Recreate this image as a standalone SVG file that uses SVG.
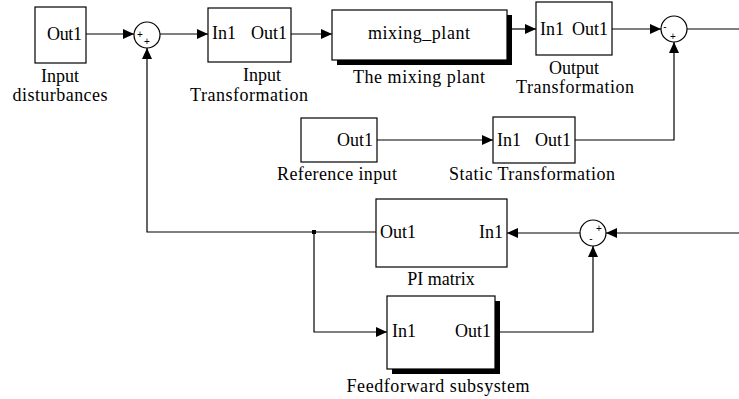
<svg xmlns="http://www.w3.org/2000/svg" width="739" height="399" viewBox="0 0 739 399">
<style>
.blk{fill:#fff;stroke:#000;stroke-width:1.2}
.sh{fill:#000}
.t{font-family:"Liberation Serif","DejaVu Serif",serif;font-size:18px;fill:#000}
.s{font-family:"Liberation Sans","DejaVu Sans",sans-serif;font-size:10px;fill:#000}
.w{fill:none;stroke:#000;stroke-width:1.2}
.c{fill:#fff;stroke:#000;stroke-width:1.2}
</style>
<defs>
<marker id="a" markerWidth="11" markerHeight="10" refX="11" refY="5" orient="auto" markerUnits="userSpaceOnUse">
<path d="M0,0 L11,5 L0,10 Z" fill="#000"/>
</marker>
</defs>
<g id="connectors">
<path class="w" d="M86,34 H134" marker-end="url(#a)"/>
<path class="w" d="M160,34 H208" marker-end="url(#a)"/>
<path class="w" d="M291,34 H332" marker-end="url(#a)"/>
<path class="w" d="M512,29 H536" marker-end="url(#a)"/>
<path class="w" d="M612,29 H661" marker-end="url(#a)"/>
<path class="w" d="M687,29 H739"/>
<path class="w" d="M377,140 H493" marker-end="url(#a)"/>
<path class="w" d="M575,140 H674 V42" marker-end="url(#a)"/>
<path class="w" d="M376,232 H147 V48" marker-end="url(#a)"/>
<path class="w" d="M314,232 V332 H387" marker-end="url(#a)"/>
<rect x="312" y="230" width="4" height="4" fill="#000"/>
<path class="w" d="M500,332 H593 V246" marker-end="url(#a)"/>
<path class="w" d="M739,233 H606" marker-end="url(#a)"/>
<path class="w" d="M580,233 H507" marker-end="url(#a)"/>
</g>
<g id="input-disturbances">
<rect class="blk" x="35" y="7" width="51" height="56"/>
<text class="t" x="82" y="40" text-anchor="end" textLength="35">Out1</text>
<text class="t" x="60" y="82" text-anchor="middle">Input</text>
<text class="t" x="60" y="101" text-anchor="middle" textLength="95">disturbances</text>
</g>
<g id="sum1">
<circle class="c" cx="147" cy="35" r="13"/>
<text class="s" x="140" y="38" text-anchor="middle">+</text>
<text class="s" x="147" y="45" text-anchor="middle">+</text>
</g>
<g id="input-transformation">
<rect class="blk" x="208" y="8" width="83" height="54"/>
<text class="t" x="212" y="39">In1</text>
<text class="t" x="287" y="39" text-anchor="end">Out1</text>
<text class="t" x="262" y="81" text-anchor="middle">Input</text>
<text class="t" x="249" y="101" text-anchor="middle" textLength="118">Transformation</text>
</g>
<g id="mixing-plant">
<rect class="sh" x="337" y="15" width="175" height="50"/>
<rect class="blk" x="332" y="10" width="175" height="50"/>
<text class="t" x="419" y="39" text-anchor="middle" textLength="102">mixing_plant</text>
<text class="t" x="419" y="83" text-anchor="middle" textLength="132">The mixing plant</text>
</g>
<g id="output-transformation">
<rect class="blk" x="536" y="2" width="76" height="53"/>
<text class="t" x="540" y="35">In1</text>
<text class="t" x="608" y="35" text-anchor="end">Out1</text>
<text class="t" x="574" y="74" text-anchor="middle">Output</text>
<text class="t" x="575" y="93" text-anchor="middle" textLength="118">Transformation</text>
</g>
<g id="sum2">
<circle class="c" cx="674" cy="29" r="13"/>
<text class="s" x="665" y="30" text-anchor="middle">-</text>
<text class="s" x="673" y="40" text-anchor="middle">+</text>
</g>
<g id="reference-input">
<rect class="blk" x="301" y="118" width="76" height="44"/>
<text class="t" x="373" y="146" text-anchor="end">Out1</text>
<text class="t" x="337" y="180" text-anchor="middle" textLength="120">Reference input</text>
</g>
<g id="static-transformation">
<rect class="blk" x="493" y="117" width="82" height="46"/>
<text class="t" x="497" y="146">In1</text>
<text class="t" x="571" y="146" text-anchor="end">Out1</text>
<text class="t" x="532" y="180" text-anchor="middle" textLength="166">Static Transformation</text>
</g>
<g id="pi-matrix">
<rect class="blk" x="376" y="199" width="131" height="68"/>
<text class="t" x="380" y="238">Out1</text>
<text class="t" x="503" y="238" text-anchor="end">In1</text>
<text class="t" x="441" y="285" text-anchor="middle">PI matrix</text>
</g>
<g id="sum3">
<circle class="c" cx="593" cy="233" r="13"/>
<text class="s" x="599" y="232" text-anchor="middle">+</text>
<text class="s" x="591" y="242" text-anchor="middle">-</text>
</g>
<g id="feedforward-subsystem">
<rect class="sh" x="392" y="301" width="108" height="73"/>
<rect class="blk" x="387" y="296" width="108" height="73"/>
<text class="t" x="392" y="337">In1</text>
<text class="t" x="491" y="337" text-anchor="end">Out1</text>
<text class="t" x="438" y="392" text-anchor="middle" textLength="183">Feedforward subsystem</text>
</g>
</svg>
